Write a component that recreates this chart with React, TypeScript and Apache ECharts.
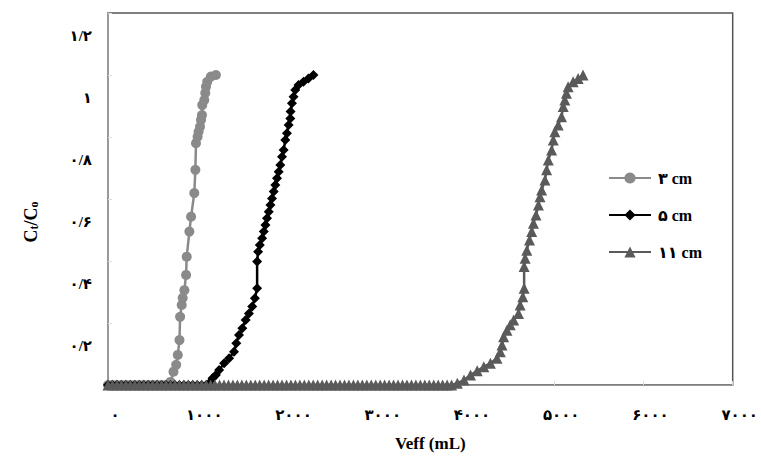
import React, { useEffect, useRef } from "react";
import * as echarts from "echarts";

const xTickLabels = ["۰", "۱۰۰۰", "۲۰۰۰", "۳۰۰۰", "۴۰۰۰", "۵۰۰۰", "۶۰۰۰", "۷۰۰۰"];
const yTickLabels = ["", "۰/۲", "۰/۴", "۰/۶", "۰/۸", "۱", "۱/۲"];
const seriesNames = ["۳ cm", "۵ cm", "۱۱ cm"];

// 3 cm column
const x3 = [0, 50, 100, 150, 200, 250, 300, 350, 400, 450, 500, 550, 600, 650, 700, 734, 764, 782, 801, 808, 826, 837, 856, 875, 882, 912, 931, 967, 979, 986, 1004, 1015, 1031, 1042, 1053, 1056, 1079, 1090, 1098, 1112, 1153, 1209];
const y3 = [0, 0, 0, 0, 0, 0, 0, 0, 0, 0, 0, 0, 0, 0, 0.01, 0.043, 0.065, 0.097, 0.145, 0.22, 0.258, 0.281, 0.306, 0.355, 0.414, 0.495, 0.543, 0.619, 0.694, 0.78, 0.801, 0.817, 0.833, 0.855, 0.871, 0.903, 0.919, 0.942, 0.962, 0.978, 0.995, 1.0];

// 5 cm column
const x5 = [0, 50, 100, 150, 200, 250, 300, 350, 400, 450, 500, 550, 600, 650, 700, 750, 800, 850, 900, 950, 1000, 1050, 1100, 1134, 1171, 1209, 1245, 1301, 1357, 1412, 1438, 1468, 1505, 1542, 1579, 1616, 1646, 1671, 1671, 1682, 1701, 1727, 1746, 1764, 1782, 1801, 1820, 1838, 1857, 1875, 1894, 1913, 1931, 1950, 1968, 1987, 2005, 2024, 2043, 2046, 2061, 2079, 2098, 2135, 2191, 2246, 2302];
const y5 = [0, 0, 0, 0, 0, 0, 0, 0, 0, 0, 0, 0, 0, 0, 0, 0, 0, 0, 0, 0, 0, 0, 0, 0.006, 0.022, 0.032, 0.048, 0.07, 0.086, 0.107, 0.135, 0.161, 0.183, 0.21, 0.231, 0.253, 0.28, 0.312, 0.398, 0.43, 0.452, 0.473, 0.495, 0.516, 0.538, 0.559, 0.581, 0.602, 0.624, 0.645, 0.667, 0.688, 0.71, 0.736, 0.758, 0.79, 0.812, 0.839, 0.86, 0.882, 0.909, 0.93, 0.952, 0.968, 0.978, 0.989, 1.0];

// 11 cm column
const x11 = [0, 50, 100, 150, 200, 250, 300, 350, 400, 450, 500, 550, 600, 650, 700, 750, 800, 850, 900, 950, 1000, 1050, 1100, 1150, 1200, 1250, 1300, 1350, 1400, 1450, 1500, 1550, 1600, 1650, 1700, 1750, 1800, 1850, 1900, 1950, 2000, 2050, 2100, 2150, 2200, 2250, 2300, 2350, 2400, 2450, 2500, 2550, 2600, 2650, 2700, 2750, 2800, 2850, 2900, 2950, 3000, 3050, 3100, 3150, 3200, 3250, 3300, 3350, 3400, 3450, 3500, 3550, 3600, 3650, 3700, 3750, 3800, 3850, 3914, 3989, 4062, 4137, 4211, 4285, 4359, 4396, 4415, 4433, 4470, 4507, 4545, 4600, 4618, 4648, 4663, 4663, 4674, 4693, 4723, 4748, 4767, 4796, 4823, 4841, 4859, 4896, 4915, 4934, 4971, 4989, 5007, 5045, 5082, 5101, 5119, 5137, 5156, 5212, 5268, 5323];
const y11 = [0, 0, 0, 0, 0, 0, 0, 0, 0, 0, 0, 0, 0, 0, 0, 0, 0, 0, 0, 0, 0, 0, 0, 0, 0, 0, 0, 0, 0, 0, 0, 0, 0, 0, 0, 0, 0, 0, 0, 0, 0, 0, 0, 0, 0, 0, 0, 0, 0, 0, 0, 0, 0, 0, 0, 0, 0, 0, 0, 0, 0, 0, 0, 0, 0, 0, 0, 0, 0, 0, 0, 0, 0, 0, 0, 0, 0, 0, 0.006, 0.016, 0.032, 0.046, 0.059, 0.07, 0.086, 0.107, 0.129, 0.156, 0.177, 0.194, 0.21, 0.231, 0.258, 0.285, 0.312, 0.382, 0.409, 0.435, 0.468, 0.495, 0.522, 0.548, 0.581, 0.607, 0.629, 0.661, 0.694, 0.726, 0.758, 0.79, 0.817, 0.839, 0.865, 0.898, 0.919, 0.941, 0.962, 0.978, 0.989, 1.0];

const FONT = '"Liberation Serif", "Times New Roman", "DejaVu Sans", serif';

function zip(xs: number[], ys: number[]) {
  return xs.map((x, i) => [x, ys[i]]);
}

export default function App() {
  const ref = useRef<HTMLDivElement>(null);
  useEffect(() => {
    if (!ref.current) return;
    const chart = echarts.init(ref.current, undefined, { renderer: "svg" });
    const mk = (name: string, data: number[][], color: string, symbol: string, size: number) => ({
      name,
      type: "line",
      data,
      symbol,
      symbolSize: size,
      showAllSymbol: true,
      lineStyle: { color, width: 2.5 },
      itemStyle: { color },
      clip: false,
    });
    chart.setOption({
      animation: false,
      backgroundColor: "#fff",
      grid: {
        left: 108,
        right: 24,
        top: 13,
        bottom: 73,
        show: true,
        borderColor: "#555",
        borderWidth: 1.5,
        containLabel: false,
      },
      legend: {
        orient: "vertical",
        left: 603,
        top: 165,
        itemWidth: 42,
        itemHeight: 14,
        itemGap: 21,
        data: seriesNames,
        textStyle: {
          fontFamily: FONT,
          fontWeight: "bold",
          fontSize: 16,
          color: "#000",
          lineHeight: 14,
          padding: [0, 0, 0, 2],
        },
      },
      xAxis: {
        type: "value",
        min: 0,
        max: 7000,
        interval: 1000,
        name: "Veff (mL)",
        nameLocation: "middle",
        nameGap: 50,
        nameTextStyle: {
          fontFamily: FONT,
          fontWeight: "bold",
          fontSize: 17,
          color: "#000",
          padding: [0, 0, 0, 20],
        },
        axisLine: { show: true, lineStyle: { color: "#999", width: 1 } },
        axisTick: { show: true, inside: true, length: 4, lineStyle: { color: "#ddd" } },
        splitLine: { show: false },
        axisLabel: {
          margin: 22,
          fontFamily: FONT,
          fontWeight: "bold",
          fontSize: 15,
          color: "#000",
          padding: [0, 0, 0, 14],
          formatter: (v: number) => xTickLabels[Math.round(v / 1000)] ?? "",
        },
      },
      yAxis: {
        type: "value",
        min: 0,
        max: 1.2,
        interval: 0.2,
        name: "{a|C}{b|t}{a|/C}{b|o}",
        nameLocation: "middle",
        nameRotate: 90,
        nameGap: 68,
        nameTextStyle: {
          padding: [0, 46, 0, 0],
          rich: {
            a: { fontFamily: FONT, fontWeight: "bold", fontSize: 18, color: "#000", lineHeight: 22, verticalAlign: "bottom" },
            b: { fontFamily: FONT, fontWeight: "bold", fontSize: 12, color: "#000", lineHeight: 11, verticalAlign: "bottom" },
          },
        },
        axisLine: { show: true, lineStyle: { color: "#999", width: 2 } },
        axisTick: { show: true, inside: true, length: 4, lineStyle: { color: "#ddd" } },
        splitLine: { show: false },
        axisLabel: {
          margin: 16,
          fontFamily: FONT,
          fontWeight: "bold",
          fontSize: 15,
          color: "#000",
          verticalAlign: "top",
          padding: [15, 0, 0, 0],
          formatter: (v: number) => yTickLabels[Math.round(v / 0.2)] ?? "",
        },
      },
      series: [
        mk(seriesNames[0], zip(x3, y3), "#8a8a8a", "circle", 10),
        mk(seriesNames[1], zip(x5, y5), "#000000", "diamond", 10),
        mk(seriesNames[2], zip(x11, y11), "#5a5a5a", "triangle", 11),
      ],
    });
    return () => chart.dispose();
  }, []);
  return (
    <div
      ref={ref}
      style={{ position: "fixed", left: 0, top: 0, width: 761, height: 458 }}
    />
  );
}
